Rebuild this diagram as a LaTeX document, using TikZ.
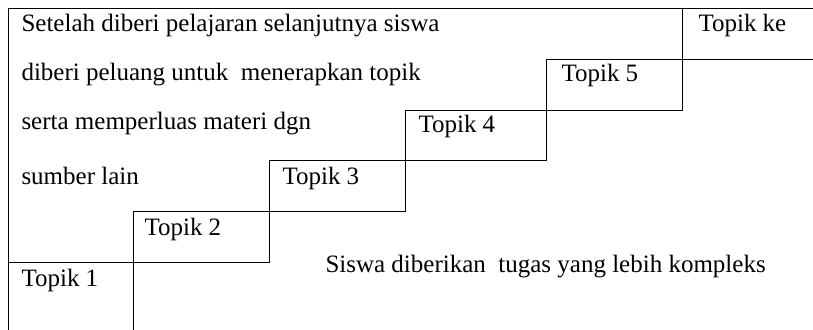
\documentclass[tikz,border=0pt]{standalone}
\usepackage{fontspec}
\setmainfont{Liberation Serif}

\begin{document}
\begin{tikzpicture}[x=0.5pt, y=-0.5pt, line width=0.5pt,
    every node/.style={font=\fontsize{12.5}{15}\selectfont, inner sep=0pt, anchor=base west}]
    \useasboundingbox (0,0) rectangle (813,330);
    % frame and the corners of the stairs
    \coordinate (tl) at (8,9);
    \coordinate (tr) at (813,9);
    \coordinate (bl) at (8,330);
    \coordinate (a1) at (8,263);
    \coordinate (c1) at (133,263);
    \coordinate (d1) at (133,330);
    \coordinate (a2) at (133,212);
    \coordinate (b2) at (269,263);
    \coordinate (a3) at (269,161);
    \coordinate (b3) at (405,212);
    \coordinate (a4) at (405,111);
    \coordinate (b4) at (546,161);
    \coordinate (a5) at (546,60);
    \coordinate (b5) at (682,111);
    \coordinate (c6) at (682,9);
    \coordinate (e6) at (682,60);
    \coordinate (d6) at (813,60);

    \draw (bl) -- (tl) -- (tr);
    \draw (a1) -- (c1) -- (d1);
    \draw (a2) rectangle (b2);
    \draw (a3) rectangle (b3);
    \draw (a4) rectangle (b4);
    \draw (a5) rectangle (b5);
    \draw (c6) -- (e6) -- (d6);

    \node (intro1) at (21,32) {Setelah diberi pelajaran selanjutnya siswa};
    \node (intro2) at (21,81) {diberi peluang untuk\ \ menerapkan topik};
    \node (intro3) at (21,130) {serta memperluas materi dgn};
    \node (intro4) at (21,185) {sumber lain};

    \node (t1) at (21,287) {Topik 1};
    \node (t2) at (144,236) {Topik 2};
    \node (t3) at (282,185) {Topik 3};
    \node (t4) at (418,133) {Topik 4};
    \node (t5) at (561,82) {Topik 5};
    \node (t6) at (698,32) {Topik ke};

    \node (tugas) at (325,273) {Siswa diberikan\ \ tugas yang lebih kompleks};
\end{tikzpicture}
\end{document}
